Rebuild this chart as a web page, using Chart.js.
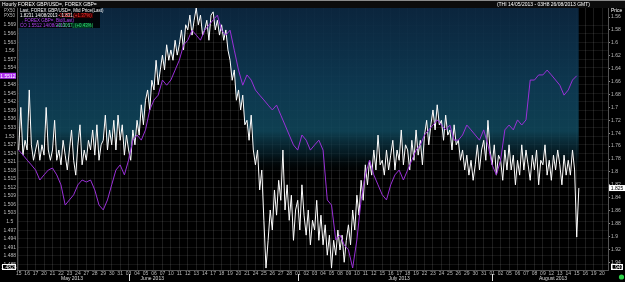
<!DOCTYPE html>
<html><head><meta charset="utf-8">
<script src="https://cdn.jsdelivr.net/npm/chart.js@4/dist/chart.umd.min.js"></script>
<style>html,body{margin:0;padding:0;background:#000;overflow:hidden}canvas{display:block}</style>
</head><body>
<canvas id="c" width="625" height="282"></canvas>
<script>
// ---- categories / tick labels ----
const DAY_LABELS = ['15','16','17','20','21','22','23','24','27','28','29','30','31',
 '03','04','05','06','07','10','11','12','13','14','17','18','19','20','21','24','25','26','27','28',
 '01','02','03','04','05','08','09','10','11','12','15','16','17','18','19','22','23','24','25','26','29','30','31',
 '01','02','05','06','07','08','09','12','13','14','15','16','19','20'];
const MONTHS = ['May 2013','June 2013','July 2013','August 2013'];
const MONTH_AT = [6.3, 15.8, 45, 63.2];
const MONTH_START = [13, 33, 56];
const LEFT_TICKS = [1.569,1.566,1.563,1.56,1.557,1.554,1.551,1.548,1.545,1.542,1.539,1.536,1.533,1.53,1.527,1.524,1.521,1.518,1.515,1.512,1.509,1.506,1.503,1.5,1.497,1.494,1.491,1.488,1.485];
const RIGHT_TICKS = [1.56,1.57,1.58,1.59,1.6,1.61,1.62,1.63,1.64,1.65,1.66,1.67,1.68,1.69,1.7,1.71,1.72,1.73,1.74,1.75,1.76,1.77,1.78,1.79,1.8,1.81,1.82,1.83,1.84,1.85,1.86,1.87,1.88,1.89,1.9,1.91,1.92,1.93,1.94];

// ---- series: purple (GBP/USD, left axis), two readings per business day ----
const PURPLE = [
 1.5251,1.5234, 1.5216,1.5199, 1.5181,1.5146, 1.5164,1.5181, 1.5188,1.5164,
 1.5129,1.5058, 1.5076,1.5094, 1.5129,1.5146, 1.5139,1.5146, 1.5111,1.5058,
 1.5041,1.5076, 1.5129,1.5181, 1.5199,1.5164, 1.5216,1.5286, 1.5304,1.5286,
 1.5322,1.5392, 1.5427,1.5444, 1.5497,1.5479, 1.5497,1.5532, 1.5567,1.5620,
 1.5637,1.5672, 1.5655,1.5637, 1.5672,1.5690, 1.5708,1.5725, 1.5672,1.5655,
 1.5672,1.5602, 1.5532,1.5479, 1.5515,1.5497, 1.5462,1.5444, 1.5427,1.5409,
 1.5392,1.5409, 1.5374,1.5339, 1.5304,1.5269, 1.5251,1.5304, 1.5286,1.5251,
 1.5269,1.5286, 1.5251,1.5076, 1.5058,1.4936, 1.4953,1.4918, 1.4901,1.4837,
 1.4936,1.5076, 1.5164,1.5216, 1.5164,1.5129, 1.5094,1.5076, 1.5129,1.5164,
 1.5181,1.5146, 1.5181,1.5216, 1.5251,1.5269, 1.5304,1.5322, 1.5339,1.5357,
 1.5339,1.5322, 1.5339,1.5286, 1.5286,1.5304, 1.5339,1.5322, 1.5304,1.5286,
 1.5322,1.5269, 1.5199,1.5164, 1.5216,1.5322, 1.5339,1.5322, 1.5357,1.5339,
 1.5357,1.5497, 1.5497,1.5515, 1.5515,1.5532, 1.5515,1.5497, 1.5479,1.5444,
 1.5462,1.5497, 1.5512];

// ---- series: white (right, inverted axis), four readings per business day ----
const WHITE = [
 1.766,1.700,1.774,1.751, 1.766,1.673,1.758,1.782, 1.766,1.751,1.782,1.758,
 1.774,1.700,1.766,1.782, 1.766,1.720,1.782,1.766, 1.789,1.751,1.774,1.797,
 1.766,1.735,1.782,1.805, 1.758,1.727,1.789,1.766, 1.782,1.751,1.766,1.735,
 1.774,1.727,1.782,1.758, 1.751,1.712,1.766,1.735, 1.758,1.720,1.766,1.712,
 1.751,1.727,1.774,1.743, 1.766,1.782,1.735,1.758, 1.720,1.743,1.696,1.727,
 1.689,1.673,1.704,1.658, 1.673,1.627,1.665,1.642, 1.619,1.642,1.603,1.627,
 1.611,1.627,1.596,1.619, 1.603,1.580,1.611,1.572, 1.580,1.557,1.588,1.565,
 1.546,1.572,1.557,1.588, 1.580,1.565,1.596,1.557, 1.552,1.580,1.565,1.588,
 1.572,1.596,1.580,1.611, 1.627,1.658,1.642,1.689, 1.673,1.704,1.681,1.727,
 1.720,1.751,1.712,1.766, 1.789,1.766,1.828,1.797, 1.875,1.949,1.906,1.859,
 1.890,1.828,1.867,1.813, 1.844,1.766,1.859,1.820, 1.875,1.836,1.906,1.859,
 1.844,1.890,1.820,1.867, 1.898,1.859,1.913,1.875, 1.890,1.844,1.906,1.867,
 1.913,1.882,1.929,1.898, 1.949,1.906,1.929,1.890, 1.921,1.898,1.940,1.906,
 1.882,1.913,1.859,1.890, 1.836,1.867,1.813,1.844, 1.789,1.820,1.782,1.805,
 1.766,1.797,1.743,1.789, 1.782,1.805,1.766,1.797, 1.774,1.751,1.797,1.766,
 1.782,1.735,1.789,1.758, 1.766,1.797,1.751,1.782, 1.735,1.774,1.751,1.789,
 1.743,1.720,1.758,1.727, 1.704,1.735,1.696,1.727, 1.720,1.751,1.712,1.743,
 1.735,1.766,1.727,1.758, 1.751,1.782,1.766,1.797, 1.774,1.805,1.782,1.813,
 1.789,1.758,1.797,1.766, 1.751,1.782,1.720,1.766, 1.789,1.758,1.805,1.774,
 1.782,1.813,1.766,1.797, 1.758,1.797,1.774,1.820, 1.782,1.805,1.758,1.797,
 1.766,1.789,1.813,1.774, 1.797,1.766,1.820,1.782, 1.789,1.758,1.805,1.782,
 1.813,1.774,1.797,1.766, 1.789,1.820,1.774,1.805, 1.782,1.805,1.766,1.797,
 1.901,1.825];

const PURPLE_LAST = 1.5512, WHITE_LAST = 1.825, LEFT_LOW = 1.4826, RIGHT_LOW = 1.949;
const TITLE = 'Hourly FOREX GBP/USD=, FOREX GBP=';
const RANGE_TEXT = '(THI 14/05/2013 - 03H8 26/08/2013 GMT)';

const purplePts = PURPLE.map((v,i)=>({x:i/2, y:v}));
const whitePts = WHITE.map((v,i)=>({x:i/4, y:v}));

const FONT = '"Liberation Sans", Arial, sans-serif';

function fillGrad(ctx){
  const ch = ctx.chart, a = ch.chartArea;
  if(!a) return 'rgba(0,0,0,0)';
  const g = ch.ctx.createLinearGradient(0, a.top, 0, a.bottom);
  g.addColorStop(0, 'rgba(12,40,66,0.92)');
  g.addColorStop(0.3, 'rgba(14,60,86,0.92)');
  g.addColorStop(0.47, 'rgba(16,70,90,0.9)');
  g.addColorStop(0.56, 'rgba(8,40,52,0.6)');
  g.addColorStop(0.64, 'rgba(0,0,0,0)');
  return g;
}

const decor = {
  id:'decor',
  beforeDraw(chart){
    const c = chart.ctx; c.save(); c.fillStyle='#000'; c.fillRect(0,0,chart.width,chart.height); c.restore();
  },
  afterDraw(chart){
    const c = chart.ctx, xs = chart.scales.x, ys = chart.scales.y, ys2 = chart.scales.y2, a = chart.chartArea;
    c.save();
    c.fillStyle='#0c0c0c'; c.fillRect(0,0,chart.width,a.top);
    c.fillStyle='#8a8a8a'; c.fillRect(0,0,chart.width,1);
    c.font='5px '+FONT; c.textBaseline='middle'; c.fillStyle='#fff'; c.textAlign='left';
    c.fillText(TITLE, 2, 4.5);
    c.textAlign='right'; c.fillText(RANGE_TEXT, 590, 4.5);
    c.textAlign='left'; c.fillText('Price', 611, 10.5);
    c.fillStyle='rgba(0,0,0,0.85)'; c.fillRect(18,7,82,21);
    c.font='4.5px '+FONT;
    c.fillStyle='#bbb'; c.fillText('PX50', 4, 10.5); c.fillText('PX50', 4, 15.5);
    c.fillStyle='#fff'; c.fillText('Last, FOREX GBP/USD=, Mid Price(Last)', 20, 10.5);
    c.fillText('1.8231 14/08/2013 - 1.831,', 20, 15.5);
    c.fillStyle='#3a0000'; c.fillRect(74,13,19,5);
    c.fillStyle='#ff3030'; c.fillText('-0.022, (+1.37%)', 58, 15.5);
    c.fillStyle='#b040f0'; c.fillText(', FOREX GBP=, Bid(Last)', 22, 20.5);
    c.fillText('CO 1.5512 14/08/2013, 1.5514,', 20, 25.5);
    c.fillStyle='#003a20'; c.fillRect(72,23,19,5);
    c.fillStyle='#30e070'; c.fillText('+0.0067, (+0.43%)', 56, 25.5);
    c.font='5px '+FONT; c.textAlign='center'; c.fillStyle='#ddd';
    MONTHS.forEach((m,i)=>c.fillText(m, xs.getPixelForValue(MONTH_AT[i]), 279));
    c.strokeStyle='#ddd'; c.lineWidth=1;
    MONTH_START.forEach(k=>{const x=Math.round(xs.getPixelForValue(k))+0.5; c.beginPath(); c.moveTo(x,a.bottom+4); c.lineTo(x,281); c.stroke();});
    c.textAlign='center';
    let yp = ys.getPixelForValue(PURPLE_LAST);
    c.fillStyle='#b030f0'; c.fillRect(0, yp-3, 16, 6);
    c.fillStyle='#fff'; c.fillText(String(PURPLE_LAST), 8, yp+0.5);
    let yb = Math.min(ys.getPixelForValue(LEFT_LOW), a.bottom-3);
    c.fillStyle='#000'; c.fillRect(2, yb-3, 14, 6); c.strokeStyle='#fff'; c.strokeRect(2.5, yb-2.5, 13, 5);
    c.fillStyle='#fff'; c.fillText(String(LEFT_LOW), 9, yb+0.5);
    let yw = ys2.getPixelForValue(WHITE_LAST);
    c.fillStyle='#fff'; c.fillRect(609, yw-3, 16, 6);
    c.fillStyle='#000'; c.fillText(String(WHITE_LAST), 617, yw+0.5);
    let yr = Math.min(ys2.getPixelForValue(RIGHT_LOW), a.bottom-3);
    c.fillStyle='#000'; c.fillRect(611, yr-3, 12, 6); c.strokeStyle='#fff'; c.strokeRect(611.5, yr-2.5, 11, 5);
    c.fillStyle='#fff'; c.fillText(String(RIGHT_LOW), 617, yr+0.5);
    c.fillStyle='#2fd24a'; c.beginPath(); c.arc(621.5, 277, 2.6, 0, Math.PI*2); c.fill();
    c.restore();
  }
};

new Chart(document.getElementById('c'), {
  type:'line',
  data:{ datasets:[
    {label:'FOREX GBP/USD=', data:whitePts, yAxisID:'y2', borderColor:'#ffffff', borderWidth:1,
     pointRadius:0, tension:0, fill:{value:1.546}, backgroundColor:fillGrad, order:2},
    {label:'FOREX GBP=', data:purplePts, yAxisID:'y', borderColor:'#9a30d8', borderWidth:1,
     pointRadius:0, tension:0, fill:false, order:1}
  ]},
  options:{
    responsive:false, animation:false, devicePixelRatio:1,
    layout:{padding:{top:8,left:0,right:0,bottom:0}},
    plugins:{legend:{display:false}, tooltip:{enabled:false}, title:{display:false}, filler:{drawTime:'beforeDatasetsDraw'}},
    scales:{
      x:{type:'linear', min:-0.2, max:69.7,
         afterBuildTicks:s=>{s.ticks = DAY_LABELS.map((_,i)=>({value:i}));},
         afterFit:s=>{s.height=12;},
         ticks:{autoSkip:false, maxRotation:0, padding:1, color:'#bbb', font:{size:5, family:FONT},
                callback:(v,i)=>DAY_LABELS[i]},
         grid:{color:'rgba(255,255,255,0.11)', drawTicks:false},
         border:{color:'#555'}},
      y:{position:'left', min:1.483, max:1.575,
         afterBuildTicks:s=>{s.ticks = LEFT_TICKS.map(v=>({value:v}));},
         afterFit:s=>{s.width=17;},
         ticks:{crossAlign:'center', padding:1, color:'#bbb', font:{size:5, family:FONT},
                callback:v=>String(+v.toFixed(3))},
         grid:{color:'rgba(255,255,255,0.08)', drawTicks:false},
         border:{color:'#555'}},
      y2:{position:'right', reverse:true, min:1.546, max:1.952,
         afterBuildTicks:s=>{s.ticks = RIGHT_TICKS.map(v=>({value:v}));},
         afterFit:s=>{s.width=17;},
         ticks:{padding:1, color:'#bbb', font:{size:5, family:FONT},
                callback:v=>String(+v.toFixed(2))},
         grid:{drawOnChartArea:false, drawTicks:true, tickLength:2, color:'#888'},
         border:{color:'#555'}}
    }
  },
  plugins:[decor]
});
</script>
</body></html>
